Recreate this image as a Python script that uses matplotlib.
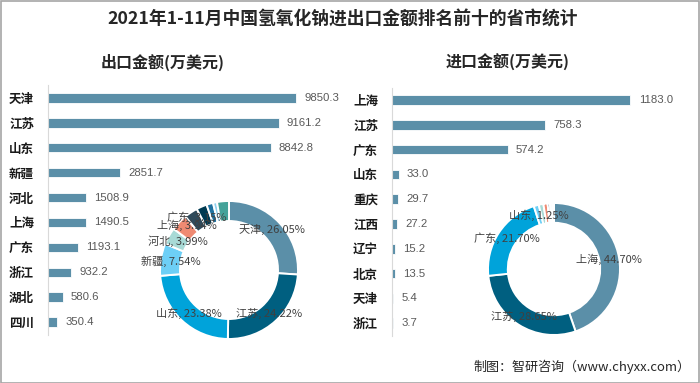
import matplotlib
matplotlib.use("Agg")
import matplotlib.pyplot as plt
from matplotlib.patches import Rectangle
import numpy as np

plt.rcParams['font.family'] = ['Noto Sans CJK SC', 'DejaVu Sans']

# ---- data ----
title = "2021年1-11月中国氢氧化钠进出口金额排名前十的省市统计"
exp_title = "出口金额(万美元)"
imp_title = "进口金额(万美元)"
source = "制图：智研咨询（www.chyxx.com）"

exp_regions = ["天津", "江苏", "山东", "新疆", "河北", "上海", "广东", "浙江", "湖北", "四川"]
exp_values = [9850.3, 9161.2, 8842.8, 2851.7, 1508.9, 1490.5, 1193.1, 932.2, 580.6, 350.4]
exp_share = [26.05, 24.22, 23.38, 7.54, 3.99, 3.94, 3.15, 2.47, 1.54, 0.93, 2.79]  # last = other
exp_share_names = exp_regions + ["其他"]
exp_labeled = 7

imp_regions = ["上海", "江苏", "广东", "山东", "重庆", "江西", "辽宁", "北京", "天津", "浙江"]
imp_values = [1183.0, 758.3, 574.2, 33.0, 29.7, 27.2, 15.2, 13.5, 5.4, 3.7]
imp_share = [44.70, 28.65, 21.70, 1.25, 1.12, 1.03, 0.57, 0.51, 0.20, 0.14, 0.13]
imp_share_names = imp_regions + ["其他"]
imp_labeled = 4

palette = ['#5b8fa8', '#005f80', '#00a3da', '#6dcff6', '#a8dad6', '#ef8a72',
           '#2f4a5b', '#003a52', '#1f72a0', '#8ed0ef', '#45a39a']

BAR = '#5b8fa8'
W, H = 700, 383
fig = plt.figure(figsize=(7, 3.83), dpi=100)


def px_axes(x0, y0, x1, y1):
    return fig.add_axes([x0 / W, 1 - y1 / H, (x1 - x0) / W, (y1 - y0) / H])


def bar_panel(ax, cats, vals, xmax):
    ypos = list(range(len(cats)))
    ax.barh(ypos, vals, height=0.38, color=BAR, edgecolor='white', linewidth=0.6)
    ax.set_ylim(len(cats) - 0.5, -0.5)
    ax.set_xlim(0, xmax)
    for s in ['top', 'right', 'bottom']:
        ax.spines[s].set_visible(False)
    ax.spines['left'].set_color('#d9d9d9')
    ax.spines['left'].set_linewidth(0.8)
    ax.set_xticks([])
    ax.set_yticks(ypos)
    ax.set_yticklabels(cats, fontsize=9.0, fontweight='bold', color='#1a1a1a')
    ax.tick_params(axis='y', length=0, pad=10)
    ax.patch.set_alpha(0)
    for y, v in zip(ypos, vals):
        ax.annotate(f"{v:.1f}", (v, y), xytext=(6, 0), textcoords='offset points',
                    va='center', ha='left', fontsize=8.2, color='#595959',
                    family=['Liberation Sans'])


def donut(cx, cy, r, shares, names, nlab, width):
    ax = px_axes(cx - r, cy - r, cx + r, cy + r)
    wedges, _ = ax.pie(shares, colors=palette[:len(shares)], startangle=90,
                       counterclock=False, radius=1,
                       wedgeprops=dict(width=width, edgecolor='white', linewidth=1.4))
    ax.set_xlim(-1, 1)
    ax.set_ylim(-1, 1)
    ax.set_aspect('equal')
    ax.axis('off')
    rm = 1 - width / 2
    prev_y = None
    for i in range(nlab):
        w = wedges[i]
        ang = np.deg2rad((w.theta1 + w.theta2) / 2)
        x, y = rm * np.cos(ang), rm * np.sin(ang)
        dy = 0
        # small labels crowded near the top: push upward a little
        if prev_y is not None and abs(y - prev_y) < 0.2 and y > 0:
            dy = 2.5
        ax.annotate(f"{names[i]}, {shares[i]:.2f}%", (x, y), xytext=(0, dy),
                    textcoords='offset points', ha='center', va='center',
                    fontsize=8.0, color='#404040', annotation_clip=False)
        prev_y = y
    return ax


ax1 = px_axes(48, 85.5, 348, 334.5)
bar_panel(ax1, exp_regions, exp_values, 11915)

ax2 = px_axes(392, 87.6, 672, 335.6)
bar_panel(ax2, imp_regions, imp_values, 1390)

donut(229, 270, 69, exp_share, exp_share_names, exp_labeled, 0.29)
donut(554, 269, 66, imp_share, imp_share_names, imp_labeled, 0.30)

fig.text(343 / W, 1 - 20 / H, title, ha='center', va='center', fontsize=12.8,
         fontweight='bold', color='#262626')
fig.text(163 / W, 1 - 62 / H, exp_title, ha='center', va='center', fontsize=11.5,
         fontweight='bold', color='#262626')
fig.text(508 / W, 1 - 62 / H, imp_title, ha='center', va='center', fontsize=11.5,
         fontweight='bold', color='#262626')
fig.text(690 / W, 1 - 367 / H, source, ha='right', va='center', fontsize=9.4,
         color='#262626')

fig.patches.append(Rectangle((0.5 / W, 0.5 / H), 1 - 1.5 / W, 1 - 1.5 / H,
                             transform=fig.transFigure, fill=False,
                             edgecolor='#a6a6a6', linewidth=1.2))

fig.savefig("out.png", dpi=100)
